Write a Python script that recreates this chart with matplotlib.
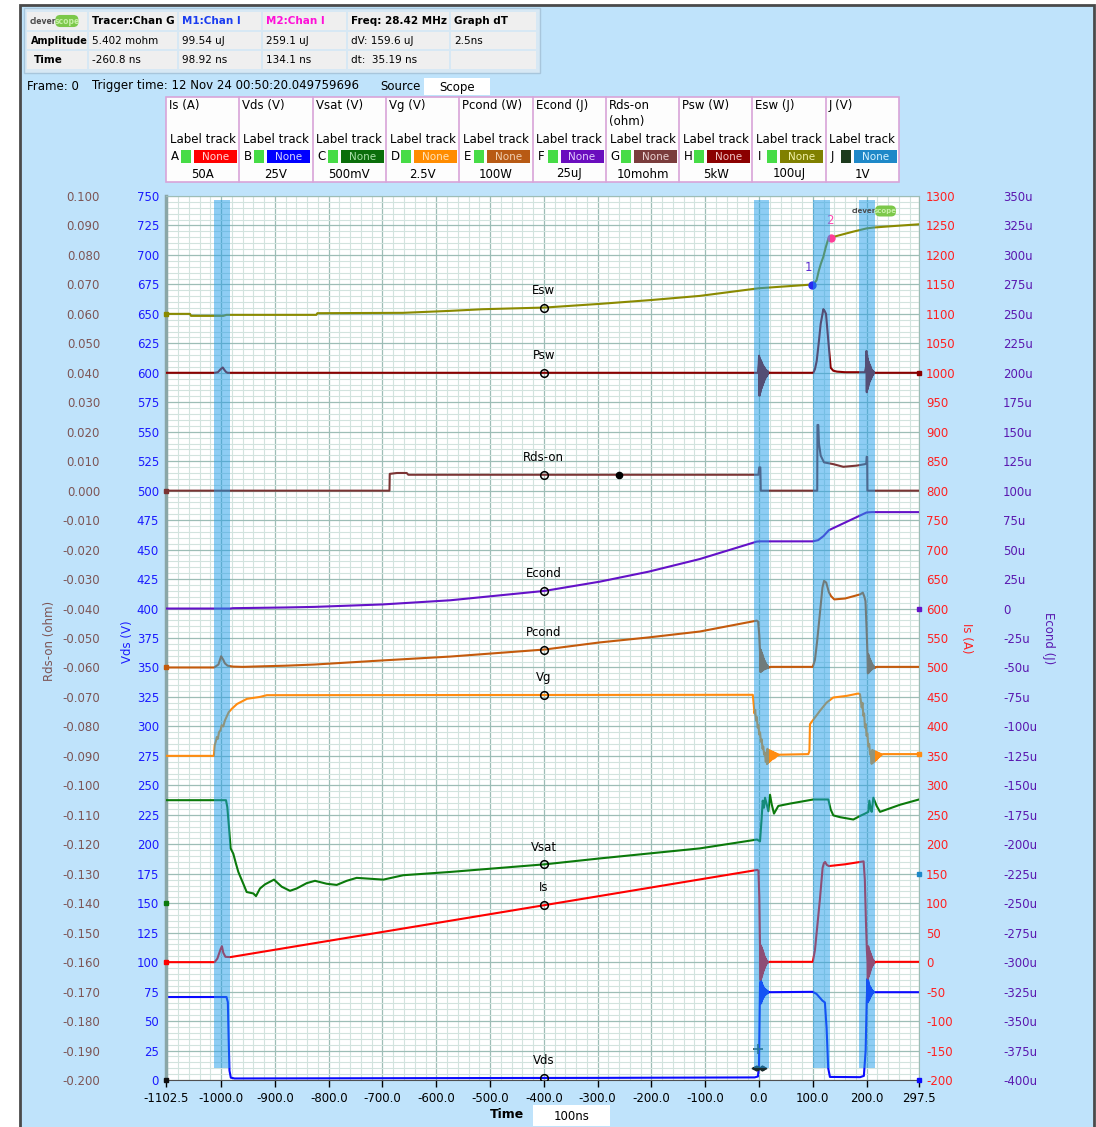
import matplotlib

matplotlib.use("Agg")

import matplotlib.pyplot as plt
import numpy as np
from matplotlib.patches import FancyBboxPatch, Rectangle
from matplotlib.ticker import FixedLocator, MultipleLocator


# ============================================================
# CAPTURE DATA  (time in ns, every channel in its own units)
# ============================================================

TIME_RANGE = (-1102.5, 297.5)

# (time, value) points; ringing bursts are (start, sample step, values)
VDS_POINTS = [
    (-1102.5, 70.4), (-990, 70.4), (-987.5, 66), (-986, 35), (-984.5, 8),
    (-982, 2.0), (-975, 1.3), (-600, 1.6), (-300, 1.8), (-8, 2.2), (-2, 3.0),
    (0, 12), (1.2, 55), (2.0, 82),
    (21, 74.5), (100, 74.8), (107, 73), (118, 67.3), (122.5, 65.8),
    (125.7, 44), (128.7, 10), (131.9, 2.6), (188, 2.4), (195, 3.5),
    (198.3, 25), (200.2, 66), (201.8, 86),
    (216, 74.5), (297.5, 74.5),
]
VDS_RINGS = [
    (2.6, 0.7, [68, 85, 65, 83, 67, 81, 68.5, 79.5, 70, 78.5, 71, 77.5, 72,
                77, 72.5, 76.5, 73, 76, 73.5, 75.5, 74, 75, 74.3, 74.5]),
    (202.5, 0.6, [66, 84, 67, 82, 68, 80, 69.5, 79, 70.5, 78, 71.5, 77, 72.5,
                  76, 73.5, 75.5, 74, 75, 74.5]),
]

IS_POINTS = [
    (-1102.5, 0), (-1012, 0), (-1007, 6), (-1001, 22), (-998.5, 27),
    (-996, 16), (-992, 9), (-983, 8.5), (-400, 96.5), (-3, 156.5),
    (-1, 155), (0.6, 110), (1.6, 45), (2.4, 5),
    (20, 0.5), (100, 0.5), (104, 20), (108.4, 61), (113.3, 107),
    (118.3, 160), (120.7, 168), (123, 170), (126, 165), (130, 163),
    (160, 166), (188, 170), (194.5, 171), (196.8, 140), (198.8, 70),
    (200.6, 20), (201.8, 0),
    (218, 0.5), (297.5, 0.5),
]
IS_RINGS = [
    (3.0, 0.7, [-30, 28, -27, 25, -23, 21, -19, 17, -15, 13, -11, 9.5, -8,
                6.5, -5, 4, -3, 2, -1.5, 1, -0.5, 0]),
    (202.4, 0.7, [-28, 27, -25, 23, -21, 19, -17, 15, -13, 11, -9, 8, -6.5,
                  5, -4, 3, -2, 1.5, -1, 0.5, 0]),
]

VSAT_POINTS = [
    (-1102.5, 1.748), (-991, 1.748), (-988.5, 1.63), (-985.4, 1.29),
    (-982.3, 0.93), (-977.4, 0.84), (-972.4, 0.67), (-968, 0.53),
    (-958.8, 0.33), (-952.5, 0.19), (-940, 0.165), (-935.2, 0.12),
    (-927.7, 0.25), (-918.4, 0.32), (-901.7, 0.40), (-887.4, 0.28),
    (-872, 0.21), (-859.5, 0.25), (-840.9, 0.34), (-825.5, 0.38),
    (-803.8, 0.33), (-785.1, 0.31), (-766.5, 0.38), (-748, 0.43),
    (-698.5, 0.40), (-661.3, 0.475), (-574.5, 0.53), (-397.9, 0.66),
    (-295.6, 0.76), (-110, 0.93), (-3.7, 1.08), (1.9, 1.05), (5, 1.45),
    (6.9, 1.74), (9.3, 1.62), (11.2, 1.79), (14.3, 1.68), (17.4, 1.56),
    (20.5, 1.84), (23.6, 1.68), (27.9, 1.52), (35.9, 1.65), (57.6, 1.69),
    (76.2, 1.72), (101, 1.76), (128.9, 1.76), (133.3, 1.59), (138.2, 1.49),
    (150.6, 1.46), (175.4, 1.42), (187.8, 1.48), (197.1, 1.52),
    (203.3, 1.55), (205.2, 1.74), (208, 1.58), (209.6, 1.55),
    (212.6, 1.79), (218.8, 1.65), (225, 1.55), (237.4, 1.59),
    (262.1, 1.67), (297.5, 1.76),
]

VG_POINTS = [
    (-1102.5, 0), (-1013.5, 0), (-1012, 0.9), (-1010, 1.2), (-1008, 1.6),
    (-1006, 1.45), (-1004, 2.0), (-1001, 2.2), (-999, 2.6), (-996, 2.5),
    (-993, 3.0), (-990, 3.3), (-986, 3.7), (-980, 4.0), (-970.5, 4.4),
    (-952, 4.84), (-928, 5.0), (-915, 5.15), (-11.5, 5.18),
    (-9.5, 4.2), (-8.5, 3.6), (-7, 3.9), (-5.5, 3.0), (-4, 3.3), (-2.5, 2.4),
    (-1, 2.6), (0.5, 1.8), (2, 2.0), (3.5, 1.2), (5, 1.4), (6.5, 0.6),
    (8, 0.8), (9.5, 0.1), (11, 0.3), (12.5, -0.5), (14, -0.2), (15, -0.7),
    (40, 0.1), (91.7, 0.15), (93.8, 0.4), (94.8, 2.69), (104, 3.25),
    (113.3, 3.82), (125.7, 4.52), (138, 4.95), (163, 5.09), (184.6, 5.29),
    (187.8, 5.23), (190.9, 4.1), (192.5, 4.5), (194, 3.4), (195.5, 3.6),
    (197, 2.4), (198.5, 2.7), (200, 1.7), (201.5, 1.9), (203.3, 0.8),
    (205, 1.0), (206.5, 0.1), (208, 0.3), (209.5, -0.68),
    (231, 0.15), (297.5, 0.15),
]
VG_RINGS = [
    (15.8, 1.2, [0.6, -0.6, 0.5, -0.5, 0.45, -0.4, 0.4, -0.3, 0.35, -0.25,
                 0.3, -0.2, 0.25, -0.1, 0.2, 0.0, 0.15, 0.05, 0.1]),
    (210.5, 1.2, [0.5, -0.6, 0.45, -0.5, 0.4, -0.4, 0.35, -0.3, 0.3, -0.2,
                  0.25, -0.1, 0.2, 0.0, 0.15, 0.1]),
]

PCOND_POINTS = [
    (-1102.5, 0), (-1013, 0), (-1005, 10), (-1000, 38), (-996, 26),
    (-993, 14), (-988, 6), (-978, 3), (-960, 2), (-922, 4), (-880, 6),
    (-826, 10), (-699, 24), (-574, 37), (-398, 61), (-296, 85), (-205, 102),
    (-110, 122), (-4, 159), (-1.5, 155), (0.5, 110), (2, 50),
    (22, 2), (100, 2), (104, 25), (108, 87), (113, 179), (118, 271),
    (121, 294), (125, 288), (130, 255), (134, 242), (140, 231), (160, 234),
    (188, 248), (193, 254), (196, 240), (198, 225), (200, 133), (201.8, 40),
    (219, 2), (297.5, 2),
]
PCOND_RINGS = [
    (2.8, 0.7, [-15, 60, -14, 52, -12, 44, -10, 36, -8, 29, -6, 23, -5, 17,
                -4, 12, -3, 8, -2, 5, -1, 3, 0, 1.5, 0.5]),
    (202.5, 0.7, [-20, 45, -18, 38, -15, 30, -12, 24, -9, 18, -7, 12, -5, 8,
                  -3, 5, -2, 3, -1, 1, 0]),
]

ECOND_POINTS_UJ = [
    (-1102.5, 0), (-983, 0), (-978, 0.3), (-880, 0.9), (-826, 1.4),
    (-699, 3.5), (-574, 7.0), (-398, 15.0), (-296, 22.8), (-205, 31.3),
    (-110, 42), (-4, 56.8), (2, 57.0), (100, 57.0), (110, 58), (120, 61.5),
    (130, 66.5), (200, 81.5), (210, 81.8), (297.5, 81.8),
]

RDS_POINTS = [
    (-1102.5, 0), (-687, 0), (-686.5, 0.0057), (-673, 0.0060),
    (-655, 0.0060), (-652, 0.0054), (-1, 0.0054), (0.5, 0.0079),
    (2.5, 0.0079), (3.3, 0), (108.3, 0), (108.7, 0.0223), (110.3, 0.0223),
    (111.5, 0.016), (114.7, 0.0119), (120.9, 0.0096), (138.2, 0.0090),
    (156.8, 0.0081), (181.7, 0.0085), (197.1, 0.0090), (199.5, 0.0092),
    (200.2, 0.0115), (201.2, 0.0115), (201.6, 0), (297.5, 0),
]

PSW_POINTS = [
    (-1102.5, 0), (-1012, 0), (-1006, 100), (-1001, 600), (-997, 900),
    (-994, 500), (-991, 150), (-988, 0), (-2, 0),
    (21, 0), (101, 0), (104, 600), (107.3, 2000), (111, 5000),
    (114.7, 8300), (119.7, 10800), (122, 10500), (124.6, 10000),
    (128.9, 5400), (133.3, 850), (138.2, 350), (145, 200), (160, 100),
    (197, 100),
    (217, 0), (297.5, 0),
]
PSW_RINGS = [
    (-0.5, 0.7, [1500, 2900, -3900, 2500, -3400, 2200, -3000, 1900, -2600,
                 1600, -2200, 1300, -1800, 1100, -1500, 900, -1200, 700, -900,
                 500, -700, 400, -500, 300, -300, 200, -100, 0]),
    (199, 0.7, [1000, 3700, -3300, 3000, -2800, 2400, -2300, 1900, -1900,
                1500, -1500, 1200, -1200, 900, -900, 600, -600, 400, -400,
                250, -200, 100, 0]),
]

ESW_POINTS_UJ = [
    (-1102.5, 0), (-1058, 0), (-1056, -6.8), (-996, -6.8), (-990, -3.4),
    (-823, -3.4), (-821, 2.3), (-662, 3.5), (-574, 10.2), (-513, 15.8),
    (-398, 21.5), (-296, 33.9), (-200, 47), (-110, 61), (0, 87),
    (98.92, 99.54), (103, 104), (107.3, 115), (111, 145), (115, 170),
    (119.7, 194), (124, 225), (128.9, 255), (134.1, 259.1), (150, 267),
    (175, 279), (200, 290), (213, 293), (250, 298), (297.5, 304),
]

# cursor readouts
TRACER_POINT = (-260.8, 5.402e-3)
M1_POINT = (98.92, 99.54e-6)
M2_POINT = (134.1, 259.1e-6)

# switching windows highlighted on the graph
HIGHLIGHT_WINDOWS = [(-1013.3, -983.5), (-9.3, 18.6), (100.9, 131.9), (185.8, 215.6)]

# channel settings table
CHANNEL_NAMES = ["Is (A)", "Vds (V)", "Vsat (V)", "Vg (V)", "Pcond (W)",
                 "Econd (J)", "Rds-on\n(ohm)", "Psw (W)", "Esw (J)", "J (V)"]
CHANNEL_LETTERS = ["A", "B", "C", "D", "E", "F", "G", "H", "I", "J"]
CHANNEL_SCALES = ["50A", "25V", "500mV", "2.5V", "100W", "25uJ", "10mohm",
                  "5kW", "100uJ", "1V"]
CHANNEL_BOX_COLOURS = ["#ff0000", "#0000ff", "#0a6e0a", "#ff8c00", "#b85a14",
                       "#6a0dbe", "#7a3c3c", "#8b0000", "#808000", "#1e88c8"]
CHANNEL_NONE_COLOURS = ["#ffd6d6", "#d6d6ff", "#a8e0a8", "#ffe2b8", "#f2cfb0",
                        "#e2ccff", "#ead2d2", "#f2c4c4", "#f2f2a8", "#d6f2ff"]

# measurement readout table
INFO_HEADERS = ["Tracer:Chan G", "M1:Chan I", "M2:Chan I", "Freq: 28.42 MHz", "Graph dT"]
INFO_HEADER_COLOURS = ["black", "#1a3cf0", "#ff10d8", "black", "black"]
INFO_AMPLITUDE = ["5.402 mohm", "99.54 uJ", "259.1 uJ", "dV: 159.6 uJ", "2.5ns"]
INFO_TIME = ["-260.8 ns", "98.92 ns", "134.1 ns", "dt:  35.19 ns", ""]

FRAME_TEXT = "Frame: 0"
TRIGGER_TEXT = "Trigger time: 12 Nov 24 00:50:20.049759696"


def build_trace(points, rings=(), scale=1.0):
    """Merge a point list with its ringing bursts, sorted by time."""
    times = [p[0] for p in points]
    values = [p[1] for p in points]
    for start, step, burst in rings:
        times += [start + i * step for i in range(len(burst))]
        values += list(burst)
    order = np.argsort(times, kind="stable")
    return np.asarray(times)[order], np.asarray(values)[order] * scale


def main():
    W, H = 1096, 1127
    panel_blue = "#bfe3fb"

    plt.rcParams["font.family"] = ["DejaVu Sans"]
    plt.rcParams["axes.unicode_minus"] = False

    figure = plt.figure(figsize=(W / 100, H / 100), dpi=100, facecolor="white")

    # ============================================================
    # BACKGROUND PANEL
    # ============================================================

    back = figure.add_axes([0, 0, 1, 1], zorder=-1)
    back.set_xlim(0, W)
    back.set_ylim(H, 0)
    back.axis("off")
    back.add_patch(Rectangle((20, 5), 1074, 1130, facecolor=panel_blue,
                             edgecolor="#4a4a4a", lw=2.0))

    # ============================================================
    # MAIN GRAPH (Vds axis) AND CHANNEL AXES
    # ============================================================

    axis = figure.add_axes([166 / W, 1 - 1080 / H, 753 / W, 884 / H])
    axis.set_facecolor("white")
    axis.set_xlim(*TIME_RANGE)
    axis.set_ylim(0, 750)

    x_ticks = [TIME_RANGE[0]] + list(range(-1000, 201, 100)) + [TIME_RANGE[1]]
    axis.set_xticks(x_ticks)
    axis.set_xticklabels([f"{t:.1f}" for t in x_ticks])
    axis.xaxis.set_minor_locator(FixedLocator(np.arange(-1100, 297, 20)))
    axis.set_yticks(np.arange(0, 751, 25))
    axis.set_yticklabels([f"{v}" for v in range(0, 751, 25)])
    axis.yaxis.set_minor_locator(MultipleLocator(5))

    axis.tick_params(axis="x", which="major", length=5, width=1, color="black",
                     direction="out", pad=4, labelsize=8.5)
    axis.tick_params(axis="y", which="major", length=0, pad=5, labelsize=8.5,
                     labelcolor="#1a1aff")
    axis.tick_params(which="minor", length=0)

    axis.grid(which="major", color="#9dbdb6", lw=0.9)
    axis.grid(which="minor", color="#d2e3de", lw=0.8)
    axis.set_axisbelow(True)

    for side in ("top", "right"):
        axis.spines[side].set_color("#9dbdb6")
    axis.spines["left"].set_color("#8aa6a6")
    axis.spines["left"].set_linewidth(2.5)
    axis.spines["bottom"].set_color("#505050")

    def channel_axis(low, high):
        twin = axis.twinx()
        twin.set_ylim(low, high)
        twin.set_yticks([])
        for spine in twin.spines.values():
            spine.set_visible(False)
        return twin

    ax_rds = channel_axis(-0.200, 0.100)
    rds_ticks = np.round(np.arange(-0.200, 0.1001, 0.010), 3)
    ax_rds.yaxis.tick_left()
    ax_rds.set_yticks(rds_ticks)
    ax_rds.set_yticklabels([f"{v:.3f}" if v != 0 else "0.000" for v in rds_ticks])
    ax_rds.tick_params(axis="y", length=0, pad=47.5, labelsize=8.5,
                       labelcolor="#7d5555")

    ax_is = channel_axis(-200, 1300)
    is_ticks = np.arange(-200, 1301, 50)
    ax_is.set_yticks(is_ticks)
    ax_is.set_yticklabels([f"{v}" for v in is_ticks])
    ax_is.tick_params(axis="y", length=0, pad=5, labelsize=8.5,
                      labelcolor="#ff2020")

    ax_econd = channel_axis(-400e-6, 350e-6)
    econd_ticks = np.arange(-400, 351, 25)
    ax_econd.set_yticks(econd_ticks * 1e-6)
    ax_econd.set_yticklabels(["0" if v == 0 else f"{v}u" for v in econd_ticks])
    ax_econd.tick_params(axis="y", length=0, pad=60.5, labelsize=8.5,
                         labelcolor="#5a18b0")

    ax_esw = channel_axis(-2600e-6, 400e-6)
    ax_psw = channel_axis(-120e3, 30e3)
    ax_pcond = channel_axis(-1400, 1600)
    ax_vg = channel_axis(-27.5, 47.5)
    ax_vsat = channel_axis(-3.0, 12.0)

    traces = [
        ("Esw", ax_esw, build_trace(ESW_POINTS_UJ, scale=1e-6), "#8a8a00"),
        ("Psw", ax_psw, build_trace(PSW_POINTS, PSW_RINGS), "#8b0000"),
        ("Rds-on", ax_rds, build_trace(RDS_POINTS), "#7b3434"),
        ("Econd", ax_econd, build_trace(ECOND_POINTS_UJ, scale=1e-6), "#6412c8"),
        ("Pcond", ax_pcond, build_trace(PCOND_POINTS, PCOND_RINGS), "#c45a0c"),
        ("Vg", ax_vg, build_trace(VG_POINTS, VG_RINGS), "#ff8c10"),
        ("Vsat", ax_vsat, build_trace(VSAT_POINTS), "#0b7a0b"),
        ("Is", ax_is, build_trace(IS_POINTS, IS_RINGS), "#ff0000"),
        ("Vds", axis, build_trace(VDS_POINTS, VDS_RINGS), "#0a0aff"),
    ]

    label_time = -400.0
    for name, target, (times, values), colour in traces:
        target.plot(times, values, color=colour, lw=1.5)
        at = np.interp(label_time, times, values)
        target.plot(label_time, at, "o", mfc="none", mec="black", ms=5.5,
                     mew=1.1, zorder=4)
        target.annotate(name, (label_time, at), xytext=(0, 12.5),
                        textcoords="offset points", ha="center", va="center",
                        fontsize=8.5)

    # zero / end markers at the graph edges
    edge_marks = [
        (ax_esw, TIME_RANGE[0], 0.0, "#8a8a00"),
        (ax_rds, TIME_RANGE[0], 0.0, "#7b3434"),
        (ax_pcond, TIME_RANGE[0], 0.0, "#c45a0c"),
        (ax_vsat, TIME_RANGE[0], 0.0, "#0b7a0b"),
        (ax_is, TIME_RANGE[0], 0.0, "#ff0000"),
        (axis, TIME_RANGE[0], 0.0, "#101010"),
        (ax_psw, TIME_RANGE[1], 0.0, "#8b0000"),
        (ax_econd, TIME_RANGE[1], 0.0, "#6412c8"),
        (ax_vg, TIME_RANGE[1], 0.15, "#ff8c10"),
        (axis, TIME_RANGE[1], 175.0, "#1e88c8"),
        (axis, TIME_RANGE[1], 0.0, "#0a0aff"),
    ]
    for target, t, v, colour in edge_marks:
        target.plot(t, v, "s", color=colour, ms=3.5, clip_on=False, zorder=5)

    # tracer and cursor points
    ax_rds.plot(*TRACER_POINT, "o", color="black", ms=4.5, zorder=5)
    ax_esw.plot(*M1_POINT, "o", color="#2a2af0", ms=5, zorder=5)
    ax_esw.annotate("1", M1_POINT, xytext=(-3, 12), textcoords="offset points",
                    ha="center", va="center", fontsize=8.5, color="#5a2ad0")
    ax_esw.plot(*M2_POINT, "o", color="#ff3c96", ms=5, zorder=5)
    ax_esw.annotate("2", M2_POINT, xytext=(-1, 12), textcoords="offset points",
                    ha="center", va="center", fontsize=8.5, color="#ff48b0")

    # trigger cursor near t = 0
    axis.plot(-1.0, 26.0, "+", color="#2e4a4a", ms=7, mew=1.2, zorder=5)
    axis.plot([-9, -4], [10, 10], color="#1a2a2a", lw=1.2)
    axis.plot([5, 10], [10, 10], color="#1a2a2a", lw=1.2)
    axis.plot(-9, 10, "<", color="#1a2a2a", ms=3.5)
    axis.plot(-4, 10, "o", color="#1a2a2a", ms=3)
    axis.plot(5, 10, "o", color="#1a2a2a", ms=3)
    axis.plot(10, 10, ">", color="#1a2a2a", ms=3.5)

    # highlight windows sit on top of the traces
    overlay = channel_axis(0, 1)
    for start, end in HIGHLIGHT_WINDOWS:
        overlay.axvspan(start, end, ymin=0.0136, ymax=0.9955,
                        color="#1e9deb", alpha=0.5, lw=0)

    # ============================================================
    # PANEL TEXT, TABLES AND LOGOS
    # ============================================================

    front = figure.add_axes([0, 0, 1, 1], zorder=5)
    front.set_xlim(0, W)
    front.set_ylim(H, 0)
    front.patch.set_visible(False)
    front.axis("off")

    def logo(x, y, size):
        front.text(x, y, "clever", fontsize=size, fontweight="bold",
                   color="#4a4a4a", ha="left", va="center")
        front.add_patch(FancyBboxPatch((x + 4.6 * size, y - 1.1 * size),
                                       4.2 * size, 2.2 * size,
                                       boxstyle="round,pad=0,rounding_size=5",
                                       facecolor="#7cc84a", edgecolor="none"))
        front.text(x + 6.7 * size, y, "scope", fontsize=size,
                   fontweight="bold", color="#c8f0a8", ha="center", va="center")

    # measurement readout table
    cols = [26, 88, 178, 262, 347, 450, 537]
    rows = [11, 31, 50, 70]
    front.add_patch(Rectangle((24, 8), 516, 65, facecolor="#d7e8f4",
                              edgecolor="#a8c6dc", lw=1))
    for r in range(3):
        for c in range(6):
            front.add_patch(Rectangle((cols[c] + 1, rows[r] + 1),
                                      cols[c + 1] - cols[c] - 2,
                                      rows[r + 1] - rows[r] - 2,
                                      facecolor="#efefef", edgecolor="none"))
    logo(30, 21, 5.5)
    for c, (head, colour) in enumerate(zip(INFO_HEADERS, INFO_HEADER_COLOURS)):
        front.text(cols[c + 1] + 4, 21, head, fontsize=7.5, fontweight="bold",
                   color=colour, ha="left", va="center")
        front.text(cols[c + 1] + 4, 40.5, INFO_AMPLITUDE[c], fontsize=7.5,
                   ha="left", va="center")
        front.text(cols[c + 1] + 4, 60, INFO_TIME[c], fontsize=7.5,
                   ha="left", va="center")
    front.text(31, 40.5, "Amplitude", fontsize=7, fontweight="bold",
               ha="left", va="center")
    front.text(34, 60, "Time", fontsize=7.5, fontweight="bold",
               ha="left", va="center")

    front.text(27, 86, FRAME_TEXT, fontsize=8.5, ha="left", va="center")
    front.text(92, 86, TRIGGER_TEXT, fontsize=8.5, ha="left", va="center")
    front.text(380, 86, "Source", fontsize=8.5, ha="left", va="center")
    front.add_patch(Rectangle((424, 78), 66, 17, facecolor="white",
                              edgecolor="none"))
    front.text(457, 87, "Scope", fontsize=8.5, ha="center", va="center")

    # channel settings table
    t_left, t_right, t_top, t_bottom = 166, 899, 97, 182
    cell = (t_right - t_left) / len(CHANNEL_NAMES)
    front.add_patch(Rectangle((t_left, t_top), t_right - t_left,
                              t_bottom - t_top, facecolor="#fdfdfd",
                              edgecolor="#d8a4d8", lw=1.2))
    for i in range(len(CHANNEL_NAMES)):
        x0 = t_left + i * cell
        if i:
            front.plot([x0, x0], [t_top, t_bottom], color="#d8a4d8", lw=1.2)
        front.text(x0 + 3, 99, CHANNEL_NAMES[i], fontsize=8.5, ha="left",
                   va="top", linespacing=1.25)
        front.text(x0 + cell / 2, 139.5, "Label track", fontsize=8.5,
                   ha="center", va="center")
        front.text(x0 + 5, 156.5, CHANNEL_LETTERS[i], fontsize=8.5,
                   ha="left", va="center")
        square = "#1c3a1c" if CHANNEL_LETTERS[i] == "J" else "#46dc46"
        front.add_patch(Rectangle((x0 + 15, 150), 10, 13, facecolor=square,
                                  edgecolor="none"))
        front.add_patch(Rectangle((x0 + 28, 150), 43, 13,
                                  facecolor=CHANNEL_BOX_COLOURS[i],
                                  edgecolor="none"))
        front.text(x0 + 49.5, 156.5, "None", fontsize=7.5,
                   color=CHANNEL_NONE_COLOURS[i], ha="center", va="center")
        front.text(x0 + cell / 2, 174, CHANNEL_SCALES[i], fontsize=8.5,
                   ha="center", va="center")

    # axis titles
    front.text(50, 641, "Rds-on (ohm)", rotation=90, fontsize=8.5,
               color="#7d5555", ha="center", va="center")
    front.text(128, 642, "Vds (V)", rotation=90, fontsize=8.5,
               color="#1a1aff", ha="center", va="center")
    front.text(966, 638, "Is (A)", rotation=270, fontsize=8.5,
               color="#ff2020", ha="center", va="center")
    front.text(1048, 638, "Econd (J)", rotation=270, fontsize=8.5,
               color="#5a18b0", ha="center", va="center")

    front.text(507, 1115, "Time", fontsize=9, fontweight="bold",
               ha="center", va="center")
    front.add_patch(Rectangle((533, 1105), 77, 21, facecolor="white",
                              edgecolor="none"))
    front.text(572, 1116, "100ns", fontsize=8.5, ha="center", va="center")

    logo(852, 211, 5.0)

    figure.savefig("out.png", dpi=100, facecolor=figure.get_facecolor())


if __name__ == "__main__":
    main()
